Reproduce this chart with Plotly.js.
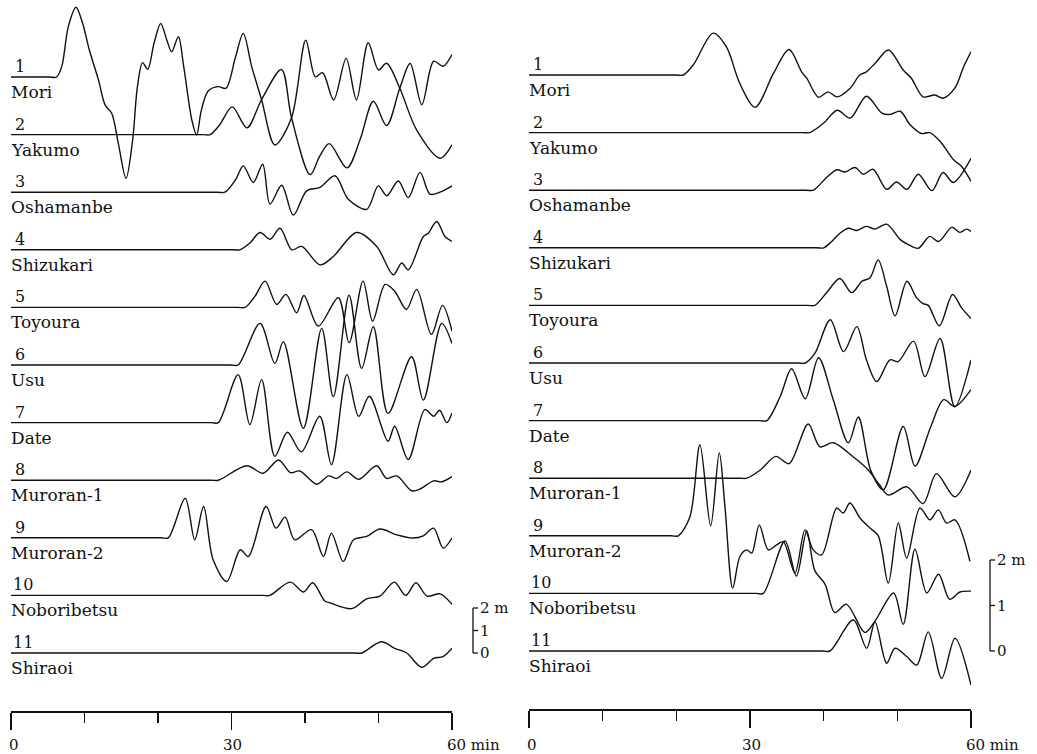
<!DOCTYPE html>
<html>
<head>
<meta charset="utf-8">
<script src="https://cdn.plot.ly/plotly-3.0.1.min.js"></script>
<style>html,body{margin:0;padding:0;background:#fff;}#chart{width:1037px;height:754px;}</style>
</head>
<body>
<div id="chart"></div>
<script>
// ---------------- data (time in minutes, water level in metres) ----------------
const stationNumbers = ['1','2','3','4','5','6','7','8','9','10','11'];
const stationNames = ['Mori','Yakumo','Oshamanbe','Shizukari','Toyoura','Usu','Date','Muroran-1','Muroran-2','Noboribetsu','Shiraoi'];
const tickVals = [0, 30, 60];
const tickLabels = ['0', '30', '60 min'];
const minorTickVals = [10, 20, 40, 50];
const scaleVals = [0, 1, 2];
const scaleLabels = ['0', '1', '2 m'];

// Left panel
const L1t = [0, 5.2, 6.2, 6.9, 7.8, 8.84, 9.75, 10.66, 11.9, 12.8, 13.7, 14.6, 15.65, 16.55, 17.2, 17.9, 18.6, 19.46, 20.37, 21.2, 21.86, 22.77, 23.5, 24.6, 25.26, 25.9, 26.85, 28.2, 29.25, 30.5, 31.6, 32.75, 34.1, 35.9, 38.16, 40.1, 41.4, 42.4, 43.9, 45.6, 47.0, 48.6, 50.0, 51.1, 52.9, 55.2, 58.4, 60];
const L1h = [0, 0, 0, 0.46, 2.24, 3.10, 2.38, 1.2, -0.13, -1.24, -1.61, -2.95, -4.50, -2.8, -0.43, 0.64, 0.34, 1.5, 2.38, 1.64, 1.12, 1.79, 0.46, -1.91, -2.58, -1.47, -0.61, -0.43, -0.5, 0.83, 1.94, 0.46, -1.02, -3.02, -1.82, 1.64, 0.01, 0.19, -1.02, 0.83, -1.02, 1.52, 0.31, 0.61, -0.5, -2.36, -3.61, -3.02];
const L2t = [0, 26.1, 27.1, 28.4, 30.1, 32.1, 34.1, 36.8, 38.16, 40.7, 42.0, 43.3, 45.7, 47.5, 49.3, 51.1, 52.9, 54.3, 55.9, 57.5, 58.8, 60];
const L2h = [0, 0, 0, 0.44, 1.23, 0.30, 1.56, 2.89, 0.76, -1.78, -0.96, -0.40, -1.48, -0.22, 1.48, 0.40, 2.07, 3.16, 1.33, 3.26, 3.04, 3.56];
const L3t = [0, 28.1, 29.1, 30.6, 31.6, 32.97, 34.24, 35.24, 36.83, 38.41, 40.23, 42.04, 44.08, 45.89, 48.39, 49.97, 51.12, 52.69, 54.05, 55.65, 57.0, 58.37, 60];
const L3h = [0, 0, 0, 0.58, 1.17, 0.43, 1.24, -0.53, 0.31, -1.02, 0.06, 0.21, 0.73, -0.31, -0.76, 0.28, -0.16, 0.50, -0.24, 0.88, -0.09, 0.0, 0.28];
const L4t = [0, 30.2, 31.16, 32.5, 33.88, 35.24, 36.6, 38.19, 39.55, 42.04, 43.85, 47.03, 49.76, 52.01, 53.16, 54.05, 56.1, 56.78, 57.92, 59.05, 60];
const L4h = [0, 0, 0, 0.3, 0.77, 0.47, 0.96, 0, 0.15, -0.67, -0.3, 0.77, 0.15, -1.11, -0.59, -0.89, 0.59, 0.74, 1.26, 0.59, 0.37];
const L5t = [0, 30.8, 31.84, 33.2, 34.56, 36.15, 37.41, 38.87, 39.86, 41.81, 44.53, 46.0, 47.9, 49.2, 50.9, 52.2, 53.8, 55.2, 57.2, 58.7, 60];
const L5h = [0, 0, 0, 0.5, 1.17, 0.13, 0.58, -0.24, 0.53, -0.83, 0.43, -1.57, 1.17, -0.61, 1.02, 0.72, -0.09, 0.8, -1.2, 0.09, -1.05];
const L6t = [0, 29.9, 30.9, 33.88, 35.9, 37.05, 39.77, 42.27, 43.85, 46.0, 47.7, 49.3, 51.3, 54.5, 56.1, 58.6, 60];
const L6h = [0, 0, 0, 1.85, 0.07, 1.04, -2.81, 1.63, -1.41, 3.1, -0.15, 1.7, -2.15, 0.37, -1.56, 1.85, 0.96];
const L7t = [0, 27.2, 28.2, 30.9, 32.5, 34.1, 35.9, 37.6, 39.5, 42.0, 43.6, 45.7, 47.3, 48.75, 51.3, 52.2, 54.05, 56.3, 57.5, 58.3, 59.3, 60];
const L7h = [0, 0, 0, 2.13, -0.09, 1.91, -1.50, -0.43, -1.3, 0.28, -1.87, 2.13, 0.28, 1.17, -0.83, -0.16, -1.64, 0.58, 0.28, 0.55, 0, 0.43];
const L8t = [0, 27.2, 28.2, 32.1, 34.3, 36.4, 38.0, 39.3, 41.6, 43.2, 44.3, 45.7, 47.3, 49.75, 51.1, 52.5, 54.5, 55.6, 57.5, 58.6, 60];
const L8h = [0, 0, 0, 0.64, 0.31, 0.9, 0.34, 0.41, -0.18, 0.19, 0.08, 0.37, 0.04, 0.64, 0.08, 0.19, -0.47, -0.4, -0.03, -0.07, 0.16];
const L9t = [0, 20.4, 21.4, 23.7, 25.0, 26.2, 27.5, 29.35, 31.2, 32.3, 34.7, 36.05, 37.3, 38.6, 40.9, 42.5, 43.6, 45.2, 46.6, 48.4, 50.2, 52.5, 54.7, 56.1, 57.5, 58.8, 60];
const L9h = [0, 0, 0, 1.76, -0.09, 1.39, -0.98, -1.94, -0.53, -0.83, 1.39, 0.43, 0.92, -0.09, 0.36, -0.83, 0.21, -1.05, -0.09, 0.06, 0.39, 0.13, -0.01, 0.09, 0.43, -0.46, -0.01];
const L10t = [0, 34.2, 35.2, 38.0, 39.8, 41.05, 42.7, 43.4, 46.35, 48.4, 50.2, 52.15, 53.7, 55.1, 56.6, 58.4, 60];
const L10h = [0, 0, 0, 0.59, 0.15, 0.56, -0.25, -0.33, -0.59, -0.15, -0.03, 0.59, 0.0, 0.56, -0.03, 0.07, -0.4];
const L11t = [0, 46.7, 47.7, 50.4, 52.2, 53.8, 55.9, 57.5, 58.8, 60];
const L11h = [0, 0, 0, 0.50, 0.21, 0.01, -0.64, -0.24, -0.16, 0.21];

// Right panel
const R1t = [0, 19.95, 20.95, 22.3, 25.0, 26.8, 28.6, 30.7, 33.2, 35.3, 37.0, 37.7, 39.3, 40.6, 41.8, 43.6, 44.9, 45.8, 47.0, 48.8, 50.8, 51.9, 53.5, 55.1, 56.2, 57.8, 59.0, 60];
const R1h = [0, 0, 0, 0.22, 0.92, 0.62, -0.18, -0.71, 0.04, 0.56, 0.07, -0.07, -0.49, -0.37, -0.48, -0.29, 0, 0.07, 0.26, 0.55, 0.11, -0.07, -0.48, -0.44, -0.51, -0.29, 0.18, 0.51];
const R2t = [0, 37.1, 38.1, 40.0, 41.85, 43.6, 45.8, 47.9, 49.0, 50.4, 51.7, 53.3, 54.4, 55.8, 57.6, 58.7, 60];
const R2h = [0, 0, 0, 0.21, 0.49, 0.32, 0.80, 0.43, 0.40, 0.47, 0.18, -0.02, 0, -0.19, -0.59, -0.74, -1.07];
const R3t = [0, 37.6, 38.6, 40.4, 41.8, 42.9, 44.25, 45.4, 46.7, 48.55, 49.9, 51.3, 52.85, 54.7, 56.2, 57.6, 60];
const R3h = [0, 0, 0, 0.28, 0.45, 0.40, 0.50, 0.35, 0.46, 0.02, 0.18, 0.02, 0.35, -0.01, 0.39, 0.17, 0.70];
const R4t = [0, 39.0, 40.0, 41.1, 42.2, 43.35, 44.5, 45.8, 46.97, 48.55, 50.4, 51.5, 52.85, 54.4, 55.6, 57.4, 58.5, 59.4, 60];
const R4h = [0, 0, 0, 0.14, 0.32, 0.43, 0.38, 0.47, 0.41, 0.52, 0.18, 0.07, -0.01, 0.25, 0.14, 0.45, 0.34, 0.41, 0.36];
const R5t = [0, 37.8, 38.8, 40.4, 42.2, 43.8, 45.2, 46.3, 47.4, 48.55, 49.7, 51.3, 52.6, 53.5, 54.2, 55.7, 57.5, 58.7, 60];
const R5h = [0, 0, 0, 0.28, 0.59, 0.28, 0.53, 0.61, 1.0, 0.42, -0.23, 0.53, 0.17, 0.04, 0, -0.45, 0.24, -0.05, -0.29];
const R6t = [0, 36.5, 37.5, 38.8, 40.9, 42.7, 44.5, 45.8, 47.2, 49.0, 50.1, 52.2, 53.75, 55.8, 57.8, 60];
const R6h = [0, 0, 0, 0.21, 0.95, 0.25, 0.80, 0.07, -0.41, 0.07, 0.03, 0.48, -0.30, 0.54, -0.96, 0.07];
const R7t = [0, 31.3, 32.3, 34.1, 35.65, 37.5, 39.3, 41.3, 43.35, 44.7, 46.4, 48.1, 50.8, 52.4, 54.5, 56.3, 57.8, 60];
const R7h = [0, 0, 0, 0.53, 1.14, 0.48, 1.38, 0.46, -0.49, 0.08, -1.1, -1.52, -0.13, -1.0, -0.15, 0.46, 0.31, 0.68];
const R8t = [0, 28.55, 29.55, 31.4, 33.5, 35.3, 37.9, 39.5, 41.3, 44.0, 46.05, 47.6, 48.8, 51.3, 53.5, 55.3, 57.8, 60];
const R8h = [0, 0, 0, 0.18, 0.48, 0.32, 1.19, 0.69, 0.78, 0.47, 0.18, -0.15, -0.37, -0.19, -0.56, 0.10, -0.41, 0.18];
const R9t = [0, 19.3, 20.27, 21.85, 23.2, 24.66, 25.83, 26.6, 27.65, 28.64, 29.55, 30.23, 31.26, 32.48, 33.62, 34.52, 36.1, 37.46, 38.59, 39.73, 41.77, 42.66, 43.57, 44.93, 46.29, 47.41, 48.77, 50.13, 51.27, 53.07, 54.43, 55.56, 56.7, 57.83, 59.86];
const R9h = [0, 0, 0, 0.42, 2.0, 0.22, 1.82, 0.64, -1.15, -0.45, -0.31, -0.38, 0.24, -0.31, -0.20, -0.13, -0.82, 0.13, -0.31, -0.42, 0.61, 0.50, 0.72, 0.39, 0.17, 0, -1.04, 0.28, -0.49, 0.61, 0.35, 0.57, 0.28, 0.35, -0.56];
const R10t = [0, 30.8, 31.8, 34.75, 36.3, 37.7, 38.8, 40.2, 41.5, 43.1, 45.6, 47.0, 49.5, 50.8, 52.4, 54.0, 55.6, 57.1, 58.5, 60];
const R10h = [0, 0, 0, 1.15, 0.38, 1.37, 0.5, 0.2, -0.42, -0.24, -0.86, -0.6, 0.01, -0.68, 0.97, 0.01, 0.42, -0.13, 0.03, 0.05];
const R11t = [0, 39.86, 40.86, 44.02, 45.84, 46.97, 48.55, 49.68, 51.27, 52.63, 54.2, 56.02, 57.83, 60];
const R11h = [0, 0, 0, 0.68, 0.06, 0.64, -0.27, 0.06, -0.12, -0.31, 0.42, -0.60, 0.28, -0.75];

const leftSeries = [[L1t,L1h],[L2t,L2h],[L3t,L3h],[L4t,L4h],[L5t,L5h],[L6t,L6h],[L7t,L7h],[L8t,L8h],[L9t,L9h],[L10t,L10h],[L11t,L11h]];
const rightSeries = [[R1t,R1h],[R2t,R2h],[R3t,R3h],[R4t,R4h],[R5t,R5h],[R6t,R6h],[R7t,R7h],[R8t,R8h],[R9t,R9h],[R10t,R10h],[R11t,R11h]];

// ---------------- layout geometry ----------------
const W = 1037, H = 754;
const STEP_PX = 57.6;          // vertical spacing between station baselines
const INK = '#111';
const FONT = 'DejaVu Serif';
const NAME_SIZE = 17, NUM_SIZE = 16;
const panels = [
  {xa:'x',  ya:'y',  series:leftSeries,  x0:11,  x1:452, axisPx:711, base11:653, pxPerM:22.5, numPx:12, namePx:9, scalePx:473},
  {xa:'x2', ya:'y2', series:rightSeries, x0:529, x1:971, axisPx:709, base11:651, pxPerM:45.5, numPx:530, namePx:527, scalePx:990}
];

const traces = [], annotations = [], shapes = [];
const layout = {
  width: W, height: H,
  margin: {l:0, r:0, t:0, b:0, pad:0},
  paper_bgcolor: '#fff', plot_bgcolor: 'rgba(0,0,0,0)',
  showlegend: false,
  font: {family: FONT, color: INK, size: 15}
};

panels.forEach((p, pi) => {
  const sfx = pi === 0 ? '' : '2';
  const stepM = STEP_PX / p.pxPerM;
  layout['xaxis' + sfx] = {
    domain: [p.x0 / W, p.x1 / W], range: [0, 60], anchor: p.ya,
    showgrid: false, zeroline: false, showline: true, linecolor: INK, linewidth: 1.5,
    tickmode: 'array', tickvals: tickVals, ticks: 'outside', ticklen: 17, tickwidth: 1.5, tickcolor: INK,
    showticklabels: false,
    minor: {tickmode: 'array', tickvals: minorTickVals, ticks: 'outside', ticklen: 10, tickwidth: 1.5, tickcolor: INK, showgrid: false},
    fixedrange: true
  };
  layout['yaxis' + sfx] = {
    domain: [(H - p.axisPx) / H, 1],
    range: [(p.base11 - p.axisPx) / p.pxPerM, p.base11 / p.pxPerM],
    visible: false, fixedrange: true
  };
  p.series.forEach((s, k) => {
    const off = (10 - k) * stepM;
    traces.push({
      type: 'scatter', mode: 'lines', x: s[0], y: s[1].map(v => v + off),
      xaxis: p.xa, yaxis: p.ya, hoverinfo: 'skip',
      line: {color: INK, width: 1.4, shape: 'spline', smoothing: 0.9}
    });
    annotations.push({
      xref: 'paper', yref: p.ya, x: (k < 9 ? p.numPx + 1 : p.numPx - 1) / W, y: off,
      xanchor: 'left', yanchor: 'bottom', yshift: -1, showarrow: false,
      text: stationNumbers[k], font: {family: FONT, size: NUM_SIZE, color: INK}
    });
    annotations.push({
      xref: 'paper', yref: p.ya, x: p.namePx / W, y: off,
      xanchor: 'left', yanchor: 'top', yshift: -3, showarrow: false,
      text: stationNames[k], font: {family: FONT, size: NAME_SIZE, color: INK}
    });
  });
  // time tick labels
  tickVals.forEach((v, i) => {
    const last = i === tickVals.length - 1;
    annotations.push({
      xref: p.xa, yref: 'paper', x: v, y: (H - 745) / H,
      xanchor: last ? 'left' : 'center', xshift: last ? -7 : (i === 0 ? 3 : 1), yanchor: 'middle',
      showarrow: false, text: tickLabels[i], font: {family: FONT, size: 15, color: INK}
    });
  });
  // vertical scale bar (metres)
  shapes.push({type: 'line', xref: 'paper', yref: p.ya, x0: p.scalePx / W, x1: p.scalePx / W,
               y0: scaleVals[0], y1: scaleVals[scaleVals.length - 1], line: {color: INK, width: 1.3}});
  scaleVals.forEach((v, i) => {
    shapes.push({type: 'line', xref: 'paper', yref: p.ya, x0: p.scalePx / W, x1: (p.scalePx + 5) / W,
                 y0: v, y1: v, line: {color: INK, width: 1.3}});
    annotations.push({
      xref: 'paper', yref: p.ya, x: (p.scalePx + 5) / W, y: v, xanchor: 'left', yanchor: 'middle',
      showarrow: false, text: scaleLabels[i], font: {family: FONT, size: 15, color: INK}
    });
  });
});

layout.annotations = annotations;
layout.shapes = shapes;
Plotly.newPlot('chart', traces, layout, {staticPlot: true, displayModeBar: false});
</script>
</body>
</html>
